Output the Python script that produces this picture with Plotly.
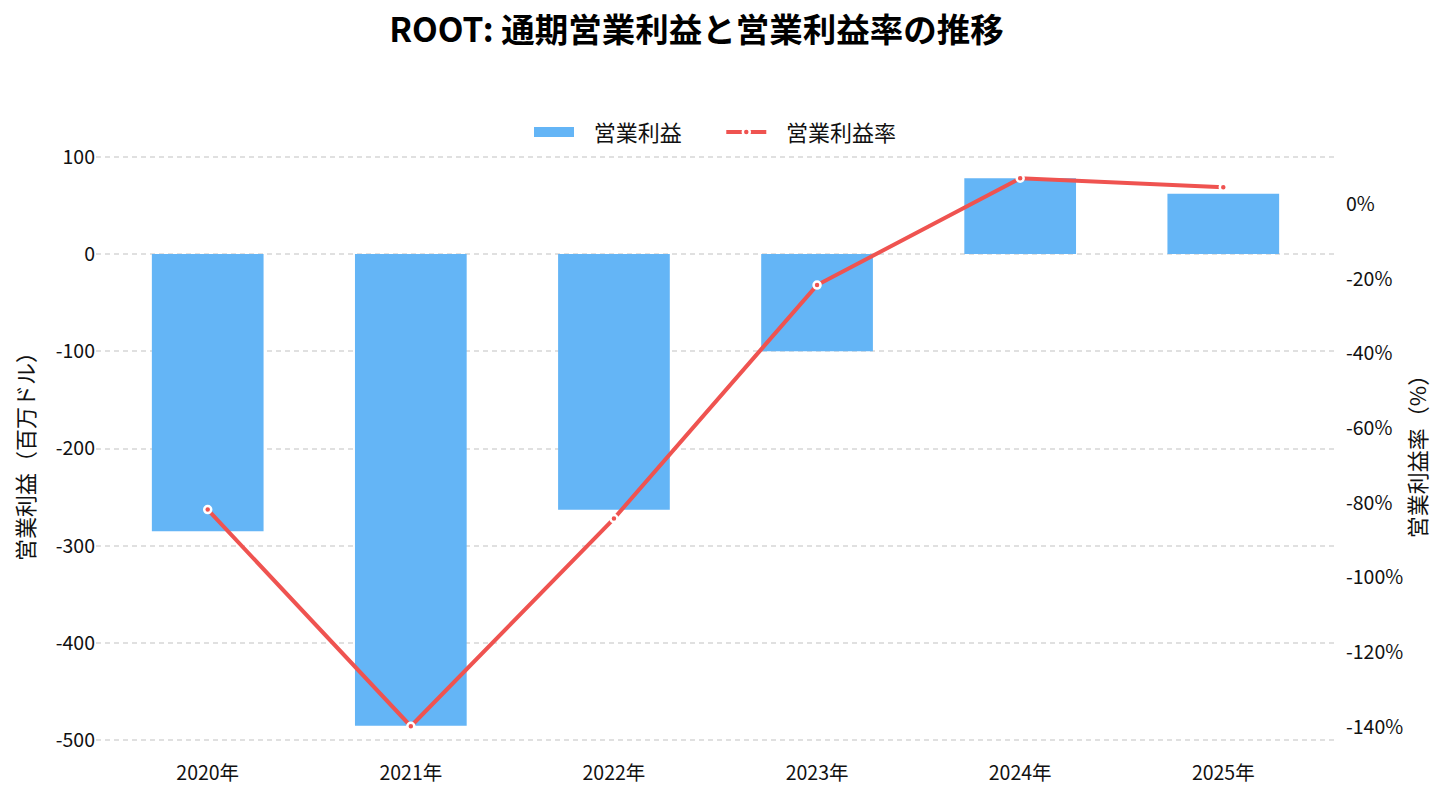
import plotly.graph_objects as go

years = ["2020年", "2021年", "2022年", "2023年", "2024年", "2025年"]
op_income = [-285, -485, -263, -100, 78, 62]          # 百万ドル
op_margin = [-81.8, -139.8, -84.2, -21.7, 6.9, 4.5]   # %

left_tick_vals = [100, 0, -100, -200, -300, -400, -500]
left_tick_text = ["100", "0", "-100", "-200", "-300", "-400", "-500"]
right_tick_vals = [0, -20, -40, -60, -80, -100, -120, -140]
right_tick_text = ["0%", "-20%", "-40%", "-60%", "-80%", "-100%", "-120%", "-140%"]

BAR_COLOR = "#64B5F6"
LINE_COLOR = "#EF5350"
FONT = "Noto Sans CJK JP"
NB = "\u00a0"

fig = go.Figure()

fig.add_trace(go.Bar(
    x=years, y=op_income, name="営業利益",
    marker=dict(color=BAR_COLOR, line=dict(width=0)),
    width=0.55, yaxis="y", showlegend=False, legendgroup="bar",
))
# legend swatch for the bars (wide rectangle)
fig.add_trace(go.Scatter(
    x=[None], y=[None], mode="lines", name=NB * 3 + "営業利益" + NB * 7,
    line=dict(color=BAR_COLOR, width=16), legendgroup="bar",
    hoverinfo="skip",
))
fig.add_trace(go.Scatter(
    x=years, y=op_margin, name=NB * 3 + "営業利益率", mode="lines+markers",
    line=dict(color=LINE_COLOR, width=4),
    marker=dict(color=LINE_COLOR, size=7, line=dict(color="white", width=2.5)),
    yaxis="y2",
))

W, H = 1434, 782
fig.update_layout(
    width=W, height=H,
    paper_bgcolor="white", plot_bgcolor="white",
    font=dict(family=FONT, size=19, color="#111"),
    margin=dict(l=88, r=107, t=139, b=35, autoexpand=False),
    title=dict(text="ROOT: 通期営業利益と営業利益率の推移",
               x=(696.5 - 8) / W, xanchor="center", y=1 - 22 / H, yanchor="middle",
               yref="container",
               font=dict(size=33.5, color="#000", family=FONT, weight="bold")),
    legend=dict(orientation="h", x=0.5, xanchor="center", y=0.9897, yanchor="bottom",
                font=dict(size=22), itemwidth=40, traceorder="normal"),
    xaxis=dict(type="category", range=[-0.55, 5.55], showgrid=False, zeroline=False,
               showline=False, ticks="", tickfont=dict(size=19.5),
               ticklabelstandoff=4, automargin=False),
    yaxis=dict(range=[-515, 110], tickvals=left_tick_vals, ticktext=left_tick_text,
               showgrid=True, gridcolor="#e0e0e0",
               griddash="5px,4px", gridwidth=1.5, zeroline=False, showline=False,
               title=dict(text="営業利益（百万ドル）", font=dict(size=22)),
               tickfont=dict(size=19.5), automargin=False),
    yaxis2=dict(overlaying="y", side="right", range=[-147.5, 15.27],
                tickvals=right_tick_vals, ticktext=right_tick_text,
                showgrid=False, zeroline=False, showline=False,
                ticklabelstandoff=10, automargin=False,
                title=dict(text="営業利益率（%）", font=dict(size=22), standoff=8),
                tickfont=dict(size=19.5)),
)

fig.write_html("out.html")
